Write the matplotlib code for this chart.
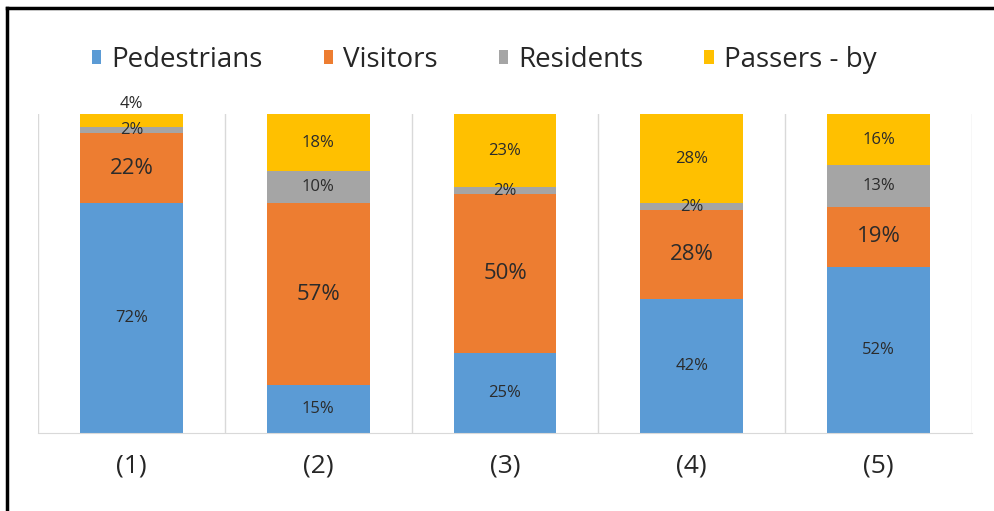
import numpy as np
import matplotlib
matplotlib.use("Agg")
import matplotlib.pyplot as plt
from matplotlib.lines import Line2D

plt.rcParams["font.family"] = ["Open Sans", "DejaVu Sans"]

categories = ["(1)", "(2)", "(3)", "(4)", "(5)"]
series_names = ["Pedestrians", "Visitors", "Residents", "Passers - by"]
pedestrians = [72, 15, 25, 42, 52]
visitors = [22, 57, 50, 28, 19]
residents = [2, 10, 2, 2, 13]
passers_by = [4, 18, 23, 28, 16]

colors = ["#5B9BD5", "#ED7D31", "#A5A5A5", "#FFC000"]
label_sizes = [12, 16, 12, 12]

fig = plt.figure(figsize=(9.94, 5.11), dpi=100)
ax = fig.add_axes([38 / 994, 1 - 433 / 511, (972 - 38) / 994, (433 - 114) / 511])

x = np.arange(len(categories))
bottom = np.zeros(len(categories))
handles = []
for name, vals, color, fs in zip(series_names,
                                 [pedestrians, visitors, residents, passers_by],
                                 colors, label_sizes):
    vals = np.array(vals, dtype=float)
    bars = ax.bar(x, vals, width=0.55, bottom=bottom, color=color, zorder=2)
    handles.append(bars)
    for xi, b, v in zip(x, bottom, vals):
        y = b + v / 2
        if v <= 4 and b + v >= 100:
            # tiny top slice: label sits just above the bar
            y = 103
        ax.text(xi, y, f"{v:.0f}%", ha="center", va="center",
                fontsize=fs, color="#2b2b2b", zorder=3, clip_on=False)
    bottom += vals

ax.set_xlim(-0.5, len(categories) - 0.5)
ax.set_ylim(0, 100)
ax.set_yticks([])
ax.set_xticks(x)
ax.set_xticklabels(categories, fontsize=19, color="#262626")
ax.tick_params(axis="x", length=0, pad=15)

# column separators
ax.set_xticks(np.arange(-0.5, len(categories)), minor=True)
ax.tick_params(axis="x", which="minor", length=0)
ax.grid(axis="x", which="minor", color="#D9D9D9", linewidth=1, zorder=0)
ax.grid(axis="x", which="major", visible=False)
for side in ["top", "left", "right"]:
    ax.spines[side].set_visible(False)
ax.spines["bottom"].set_color("#D9D9D9")

fig.legend(handles, series_names, loc="center", bbox_to_anchor=(484 / 994, 1 - 60 / 511),
           ncol=4, frameon=False, fontsize=20, handlelength=0.35, handleheight=0.35,
           handletextpad=0.35, columnspacing=2.2, labelcolor="#262626")

# outer black frame (left and top edges)
fig.add_artist(Line2D([7 / 994, 7 / 994], [0, 1 - 8 / 511], color="black", linewidth=2.5,
                      transform=fig.transFigure))
fig.add_artist(Line2D([7 / 994, 1], [1 - 8 / 511, 1 - 8 / 511], color="black", linewidth=2.5,
                      transform=fig.transFigure))

fig.savefig("out.png", dpi=100)
